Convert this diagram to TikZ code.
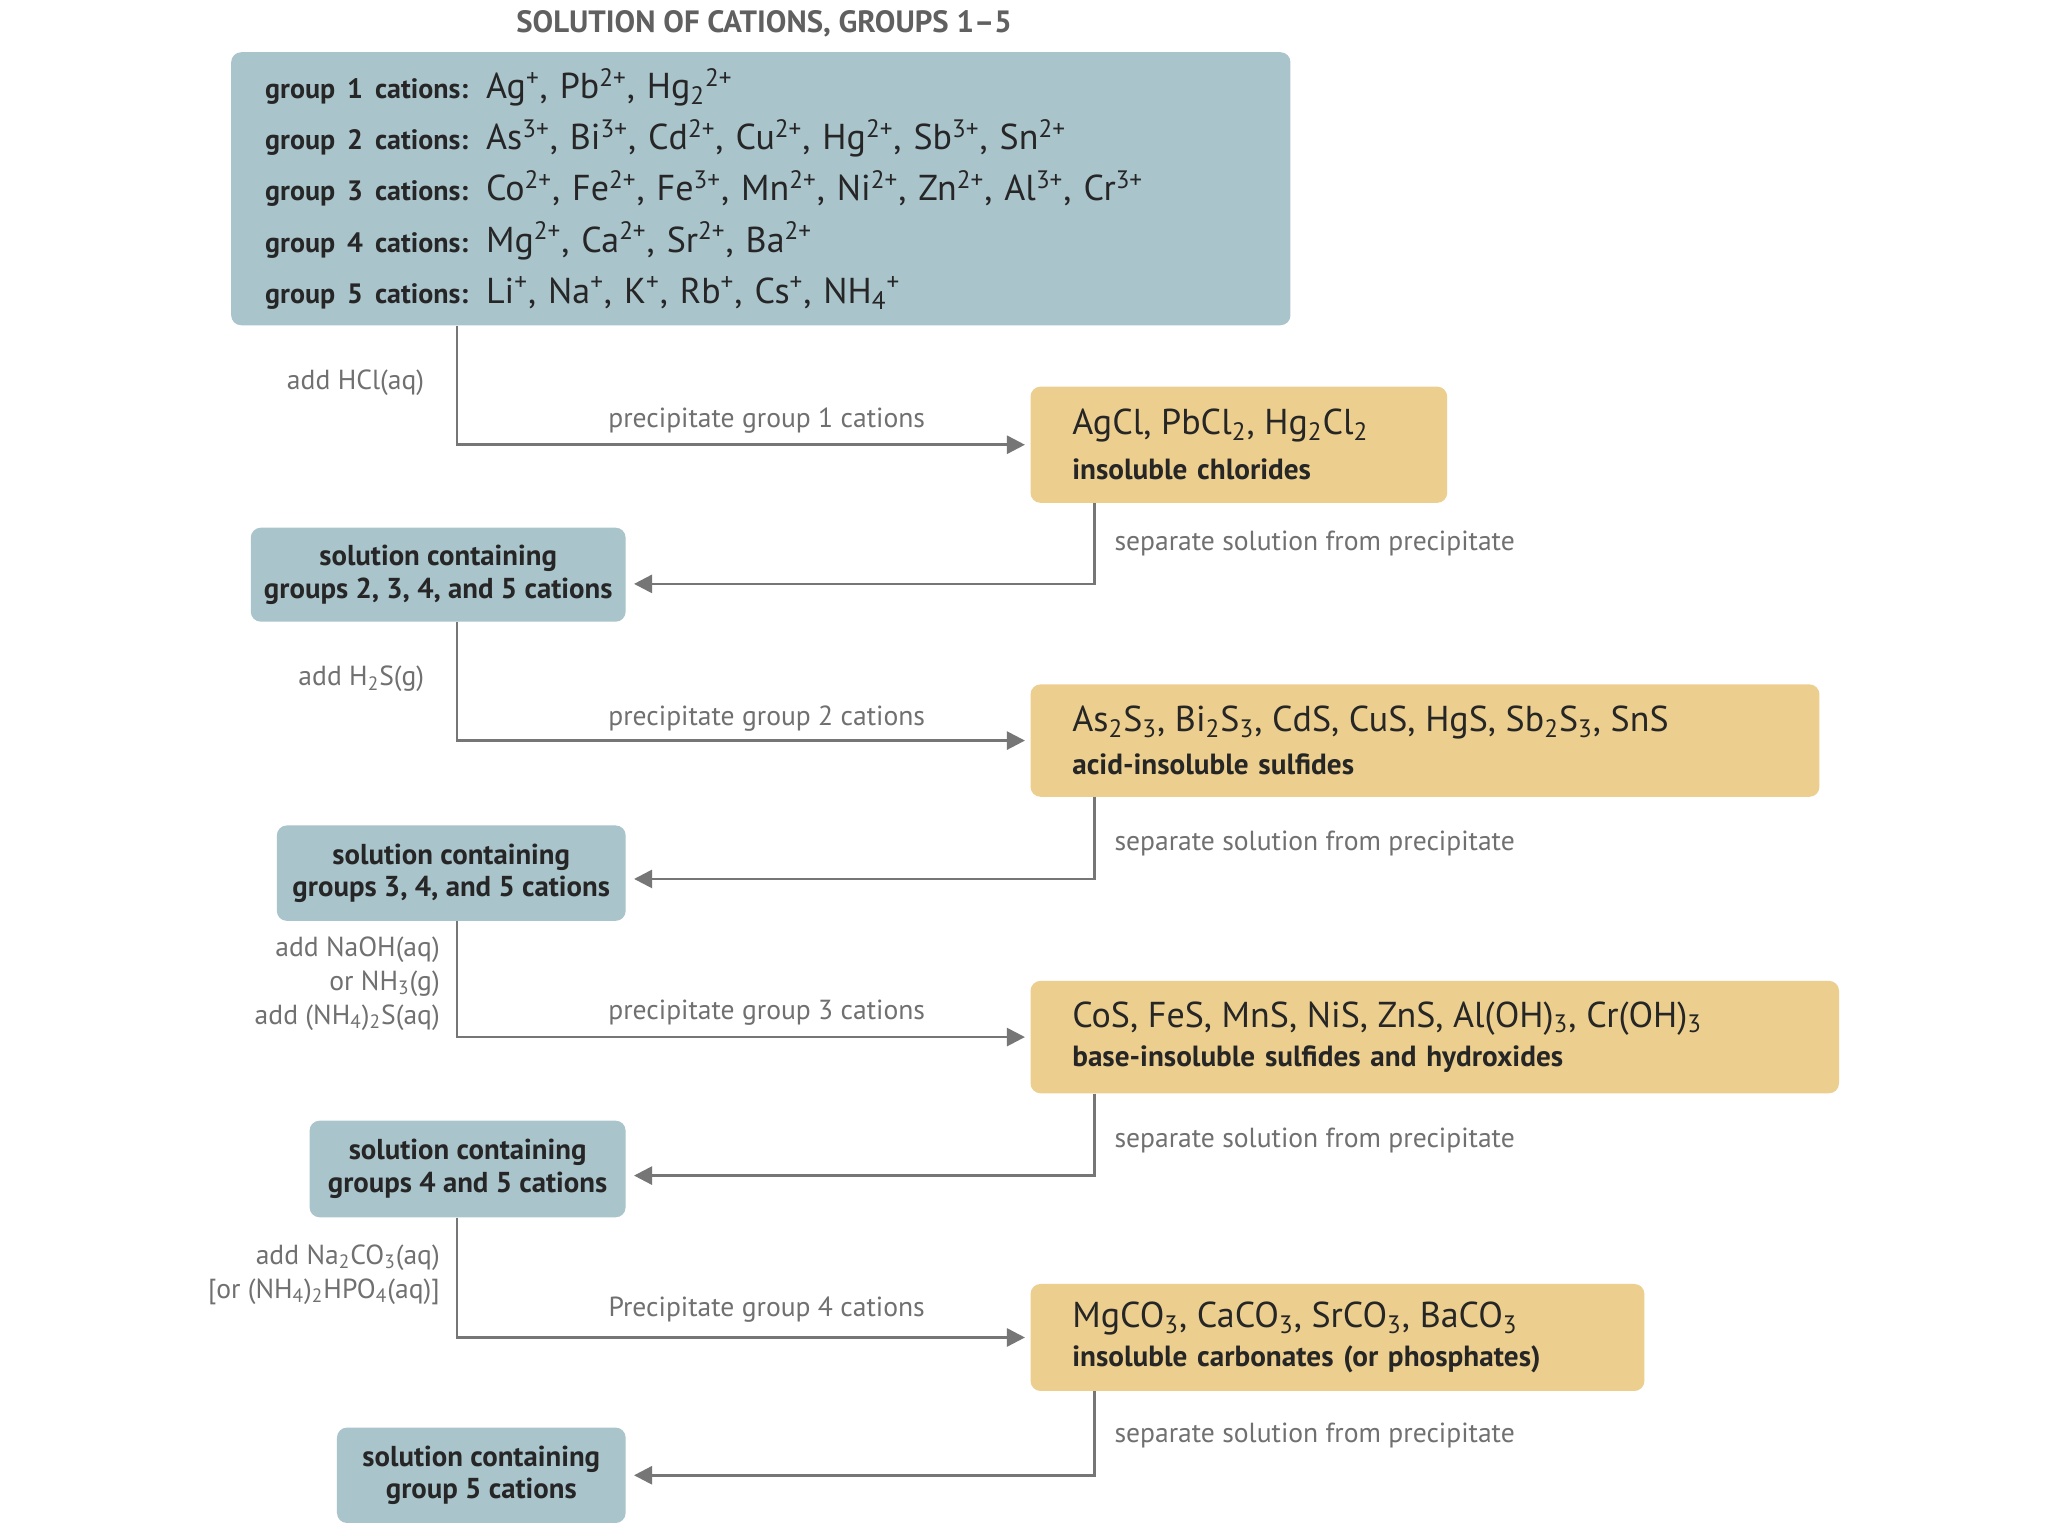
\documentclass[tikz,border=0pt]{standalone}
\usepackage{fontspec}
\setmainfont{PT Sans}
\usetikzlibrary{arrows.meta}
\definecolor{boxblue}{RGB}{170,196,204}
\definecolor{boxtan}{RGB}{236,207,142}
\definecolor{linegray}{RGB}{118,118,118}
\definecolor{lblgray}{RGB}{112,112,112}
\definecolor{boxtext}{RGB}{38,38,38}
\definecolor{titlegray}{RGB}{96,96,96}
\newcommand{\sbs}[1]{\textsubscript{#1}}
\newcommand{\sps}[1]{\textsuperscript{#1}}
\newcommand{\glab}[1]{{\bfseries\fontsize{14}{25.6}\selectfont #1}}
\begin{document}
\begin{tikzpicture}[x=0.653pt,y=-0.653pt,
  bluebox/.style={rectangle, rounded corners=5pt, fill=boxblue, text=boxtext, inner sep=0pt},
  tanbox/.style={rectangle, rounded corners=5pt, fill=boxtan, text=boxtext, inner ysep=0pt, inner xsep=20.9pt, align=left},
  solbox/.style={bluebox, align=center, font=\bfseries\fontsize{14.4}{16.3}\selectfont},
  lbl/.style={text=lblgray, inner sep=0pt, font=\fontsize{13.8}{17}\selectfont},
  conn/.style={draw=linegray, line width=1.3pt, -{Triangle[length=9pt,width=9pt]}}]
\useasboundingbox (0,0) rectangle (1568,1176);
\fill[white] (0,0) rectangle (1568,1176);

\node[text=titlegray, font=\bfseries\fontsize{15.4}{18}\selectfont, inner sep=0pt] (title) at (585,18) {SOLUTION OF CATIONS, GROUPS 1–5};

\node[bluebox, minimum width=529.6pt, minimum height=136.5pt, text width=495.6pt, inner xsep=17pt, align=left,
      font=\fontsize{18}{25.6}\selectfont] (g) at (582.5,144.5) {%
  \glab{group 1 cations:} Ag\sps{+}, Pb\sps{2+}, Hg\sbs{2}\sps{2+}\\
  \glab{group 2 cations:} As\sps{3+}, Bi\sps{3+}, Cd\sps{2+}, Cu\sps{2+}, Hg\sps{2+}, Sb\sps{3+}, Sn\sps{2+}\\
  \glab{group 3 cations:} Co\sps{2+}, Fe\sps{2+}, Fe\sps{3+}, Mn\sps{2+}, Ni\sps{2+}, Zn\sps{2+}, Al\sps{3+}, Cr\sps{3+}\\
  \glab{group 4 cations:} Mg\sps{2+}, Ca\sps{2+}, Sr\sps{2+}, Ba\sps{2+}\\
  \glab{group 5 cations:} Li\sps{+}, Na\sps{+}, K\sps{+}, Rb\sps{+}, Cs\sps{+}, NH\sbs{4}\sps{+}};

% precipitate boxes
\node[tanbox, minimum width=208.3pt, minimum height=58.1pt, text width=166.5pt, font=\bfseries\fontsize{14.6}{22.5}\selectfont] (p1) at (948.5,340.5)
  {{\mdseries\fontsize{18}{18}\selectfont AgCl, PbCl\sbs{2}, Hg\sbs{2}Cl\sbs{2}}\\insoluble chlorides};
\node[tanbox, minimum width=394.4pt, minimum height=56.2pt, text width=352.6pt, font=\bfseries\fontsize{14.6}{21.5}\selectfont] (p2) at (1091,567)
  {{\mdseries\fontsize{18}{18}\selectfont As\sbs{2}S\sbs{3}, Bi\sbs{2}S\sbs{3}, CdS, CuS, HgS, Sb\sbs{2}S\sbs{3}, SnS}\\acid-insoluble sulfides};
\node[tanbox, minimum width=404.2pt, minimum height=56.2pt, text width=362.4pt, font=\bfseries\fontsize{14.6}{19.8}\selectfont] (p3) at (1098.5,794)
  {{\mdseries\fontsize{18}{18}\selectfont CoS, FeS, MnS, NiS, ZnS, Al(OH)\sbs{3}, Cr(OH)\sbs{3}}\\base-insoluble sulfides and hydroxides};
\node[tanbox, minimum width=306.9pt, minimum height=53.5pt, text width=265.1pt, font=\bfseries\fontsize{14.6}{19.8}\selectfont] (p4) at (1024,1024)
  {{\mdseries\fontsize{18}{18}\selectfont MgCO\sbs{3}, CaCO\sbs{3}, SrCO\sbs{3}, BaCO\sbs{3}}\\insoluble carbonates (or phosphates)};

% solution boxes
\node[solbox, minimum width=187.4pt, minimum height=47pt] (s2) at (335.5,440) {solution containing\\groups 2, 3, 4, and 5 cations};
\node[solbox, minimum width=174.4pt, minimum height=47.7pt] (s3) at (345.5,668.5) {solution containing\\groups 3, 4, and 5 cations};
\node[solbox, minimum width=158pt, minimum height=48.3pt] (s4) at (358,895) {solution containing\\groups 4 and 5 cations};
\node[solbox, minimum width=144.3pt, minimum height=47.7pt] (s5) at (368.5,1129.5) {solution containing\\group 5 cations};

% connector columns
\coordinate (cl) at (350,0);
\coordinate (cr) at (838,0);

\draw[conn, shorten >=2.6pt] (cl |- g.south) |- (p1.west);
\draw[conn, shorten >=2.6pt] (cl |- s2.south) |- (p2.west);
\draw[conn, shorten >=2.6pt] (cl |- s3.south) |- (p3.west);
\draw[conn, shorten >=2.6pt] (cl |- s4.south) |- (p4.west);

\draw[conn, shorten >=4pt] (cr |- p1.south) |- ([yshift=-4.6pt]s2.east);
\draw[conn, shorten >=4pt] (cr |- p2.south) |- ([yshift=-2.9pt]s3.east);
\draw[conn, shorten >=4pt] (cr |- p3.south) |- ([yshift=-3.3pt]s4.east);
\draw[conn, shorten >=4pt] (cr |- p4.south) |- (s5.east);

% labels
\node[lbl, anchor=east] (l1) at (325,293) {add HCl(aq)};
\node[lbl] (m1) at (587,322) {precipitate group 1 cations};
\node[lbl, anchor=west] (r1) at (853,416) {separate solution from precipitate};

\node[lbl, anchor=east] (l2) at (325,520) {add H\sbs{2}S(g)};
\node[lbl] (m2) at (587,550) {precipitate group 2 cations};
\node[lbl, anchor=west] (r2) at (853,646) {separate solution from precipitate};

\node[lbl, anchor=east, align=right] (l3) at (337,753) {add NaOH(aq)\\or NH\sbs{3}(g)\\add (NH\sbs{4})\sbs{2}S(aq)};
\node[lbl] (m3) at (587,775) {precipitate group 3 cations};
\node[lbl, anchor=west] (r3) at (853,873) {separate solution from precipitate};

\node[lbl, anchor=east, align=right] (l4) at (337,976) {add Na\sbs{2}CO\sbs{3}(aq)\\{[}or (NH\sbs{4})\sbs{2}HPO\sbs{4}(aq)]};
\node[lbl] (m4) at (587,1003) {Precipitate group 4 cations};
\node[lbl, anchor=west] (r4) at (853,1099) {separate solution from precipitate};
\end{tikzpicture}
\end{document}
